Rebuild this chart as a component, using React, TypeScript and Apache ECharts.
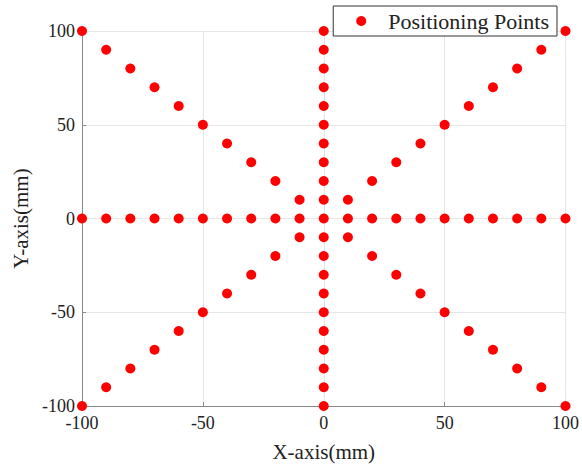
import React, { useEffect, useRef } from "react";
import * as echarts from "echarts";

// Points along y = 0
const horizontalPoints: number[][] = [
  [-100, 0], [-90, 0], [-80, 0], [-70, 0], [-60, 0], [-50, 0], [-40, 0], [-30, 0], [-20, 0], [-10, 0],
  [0, 0], [10, 0], [20, 0], [30, 0], [40, 0], [50, 0], [60, 0], [70, 0], [80, 0], [90, 0], [100, 0],
];
// Points along x = 0
const verticalPoints: number[][] = [
  [0, -100], [0, -90], [0, -80], [0, -70], [0, -60], [0, -50], [0, -40], [0, -30], [0, -20], [0, -10],
  [0, 10], [0, 20], [0, 30], [0, 40], [0, 50], [0, 60], [0, 70], [0, 80], [0, 90], [0, 100],
];
// Points along y = x
const diagonalUp: number[][] = [
  [-100, -100], [-90, -90], [-80, -80], [-70, -70], [-60, -60], [-50, -50], [-40, -40], [-30, -30], [-20, -20], [-10, -10],
  [10, 10], [20, 20], [30, 30], [40, 40], [50, 50], [60, 60], [70, 70], [80, 80], [90, 90], [100, 100],
];
// Points along y = -x
const diagonalDown: number[][] = [
  [-100, 100], [-90, 90], [-80, 80], [-70, 70], [-60, 60], [-50, 50], [-40, 40], [-30, 30], [-20, 20], [-10, 10],
  [10, -10], [20, -20], [30, -30], [40, -40], [50, -50], [60, -60], [70, -70], [80, -80], [90, -90], [100, -100],
];

const seriesName = "Positioning Points";
const xAxisName = "X-axis(mm)";
const yAxisName = "Y-axis(mm)";

const FONT = "'Liberation Serif', 'Times New Roman', serif";

export default function App() {
  const ref = useRef<HTMLDivElement>(null);
  useEffect(() => {
    if (!ref.current) return;
    const chart = echarts.init(ref.current, undefined, { renderer: "svg" });
    const allPoints = [...horizontalPoints, ...verticalPoints, ...diagonalUp, ...diagonalDown];
    const axisCommon = {
      type: "value" as const,
      min: -100,
      max: 100,
      interval: 50,
      nameLocation: "middle" as const,
      nameTextStyle: { fontFamily: FONT, fontSize: 21, color: "#222" },
      axisLine: { show: true, onZero: false, lineStyle: { color: "#888", width: 1 } },
      axisTick: { show: true, inside: true, length: 4, lineStyle: { color: "#888" } },
      axisLabel: { fontFamily: FONT, fontSize: 18, color: "#222" },
      splitLine: { show: true, lineStyle: { color: "#e5e5e5", width: 1 } },
    };
    chart.setOption({
      animation: false,
      backgroundColor: "#fff",
      grid: { left: 82, right: 15, top: 31, bottom: 61, containLabel: false },
      xAxis: { ...axisCommon, name: xAxisName, nameGap: 35, axisLabel: { ...axisCommon.axisLabel, margin: 8 } },
      yAxis: { ...axisCommon, name: yAxisName, nameGap: 50, axisLabel: { ...axisCommon.axisLabel, margin: 7 } },
      legend: {
        right: 25,
        top: 6,
        orient: "horizontal",
        icon: "circle",
        itemWidth: 10,
        itemHeight: 10,
        borderColor: "#333",
        borderWidth: 1,
        backgroundColor: "#fff",
        padding: [4, 8, 4, 23],
        textStyle: { fontFamily: FONT, fontSize: 22, color: "#222", padding: [0, 0, 0, 17] },
        data: [seriesName],
      },
      series: [
        {
          name: seriesName,
          type: "scatter",
          data: allPoints,
          symbol: "circle",
          symbolSize: 10,
          itemStyle: { color: "#ff0000", opacity: 1 },
          z: 3,
        },
      ],
    });
    return () => chart.dispose();
  }, []);
  return <div ref={ref} style={{ position: "fixed", left: 0, top: 0, width: 582, height: 467 }} />;
}
